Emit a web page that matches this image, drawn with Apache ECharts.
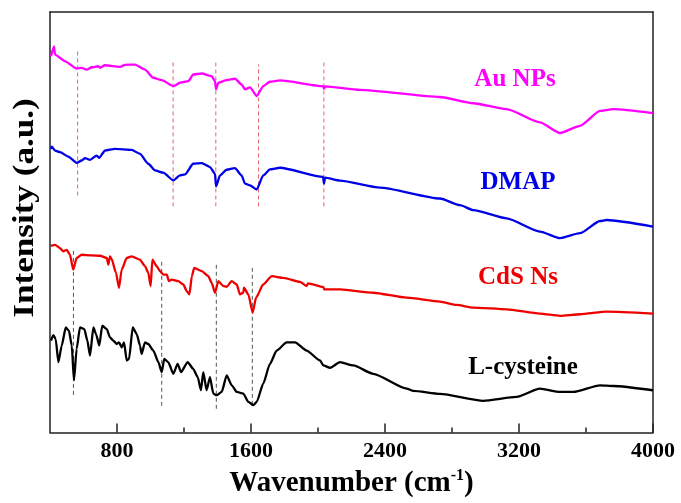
<!DOCTYPE html>
<html>
<head>
<meta charset="utf-8">
<script src="https://cdn.jsdelivr.net/npm/echarts@6/dist/echarts.min.js"></script>
<style>
  html, body { margin: 0; padding: 0; background: #fff; }
  #chart { width: 681px; height: 503px; }
</style>
</head>
<body>
<div id="chart"></div>
<script>
// FTIR spectra, stacked with vertical offsets (intensity in arbitrary units)
const tickValues = [800, 1600, 2400, 3200, 4000];
const minorTickValues = [1200, 2000, 2800, 3600];

const seriesNames = ['Au NPs', 'DMAP', 'CdS Ns', 'L-cysteine'];

// [wavenumber (cm-1), intensity (a.u.)]
const auNPs = [
  [406, 379.3], [424, 389.3], [430, 381], [490, 374.3], [559, 367], [589, 367.7],
  [619, 366], [649, 368.3], [688, 369.3], [699, 367.7], [728, 370.3], [818, 368.7],
  [848, 370.7], [907, 371], [967, 366], [1017, 357.7], [1067, 355.3], [1136, 349.3],
  [1176, 352.7], [1226, 354.3], [1255, 361], [1306, 362], [1365, 359.3], [1385, 354.3],
  [1391, 346], [1405, 352.7], [1455, 355.3], [1504, 356.7], [1544, 351], [1564, 346],
  [1594, 348], [1634, 339.3], [1673, 349.3], [1713, 353.7], [1773, 355], [2030, 349.3],
  [2036, 346.7], [2042, 349], [2251, 345.5], [2728, 338.3], [2927, 332], [3126, 326],
  [3325, 312.7], [3445, 302], [3564, 309.3], [3684, 324.3], [3763, 326], [4000, 322]
];

const dmap = [
  [406, 286], [410, 288.3], [430, 284.3], [460, 282.7], [509, 278.3], [559, 272],
  [589, 274.3], [609, 276.7], [639, 275], [679, 279.3], [694, 277], [728, 284.3],
  [788, 286], [888, 285], [937, 281], [987, 271], [1027, 264.3], [1076, 262],
  [1136, 254.3], [1176, 259.3], [1206, 260.3], [1255, 271], [1306, 271.7], [1355, 267.7],
  [1385, 261], [1391, 248.3], [1415, 259.3], [1455, 265], [1504, 266.7], [1544, 259.3],
  [1564, 251], [1594, 249.3], [1634, 245], [1673, 259.3], [1713, 265.3], [1773, 267],
  [2030, 257.7], [2036, 251], [2042, 257], [2131, 254], [2370, 247], [2728, 236],
  [2848, 229.3], [2927, 224.3], [3126, 216], [3325, 202.7], [3445, 196], [3564, 201],
  [3684, 213.3], [3723, 214.3], [4000, 207.7]
];

const cdsNs = [
  [406, 188.3], [430, 189.3], [460, 186], [479, 182.7], [500, 184.3], [519, 179.3],
  [539, 164.3], [559, 176], [589, 179.3], [649, 178.7], [699, 178.3], [739, 176],
  [748, 169.3], [758, 177.7], [768, 175], [794, 161], [812, 146], [828, 164.3],
  [858, 176], [888, 177.7], [937, 174.3], [967, 167.7], [987, 161], [1001, 147.7],
  [1011, 174.3], [1037, 167.7], [1057, 162.7], [1076, 159.3], [1097, 159.3], [1110, 152.7],
  [1127, 154.3], [1166, 152.7], [1196, 149.3], [1216, 142.7], [1232, 139.3], [1247, 157.7],
  [1261, 166], [1306, 162.7], [1345, 157.7], [1365, 151], [1385, 141], [1405, 152.7],
  [1435, 147.7], [1455, 147], [1485, 152.7], [1515, 149.3], [1534, 139.3], [1554, 141],
  [1558, 146], [1584, 139.3], [1610, 121], [1630, 136], [1673, 149.3], [1724, 157.7],
  [1793, 156], [1893, 152], [1932, 147.7], [1940, 150.5], [2032, 146.7], [2038, 144.3],
  [2131, 144.3], [2330, 141], [2530, 136], [2728, 132], [2828, 128.7], [2927, 126],
  [3126, 124.3], [3325, 120], [3445, 117.7], [3564, 119.3], [3723, 122], [4000, 120]
];

const lCysteine = [
  [406, 92.7], [420, 98.3], [434, 94.3], [450, 71], [470, 87.7], [494, 106],
  [513, 102.7], [530, 87.7], [543, 52.7], [559, 84.3], [579, 106], [605, 104.3],
  [623, 92.7], [639, 77.7], [659, 106], [675, 99.3], [694, 87.7], [712, 107.7],
  [739, 104.3], [758, 96], [778, 92.7], [798, 89.3], [812, 91], [828, 86],
  [842, 91], [858, 72.7], [872, 74.3], [894, 106], [918, 99.3], [937, 87.7],
  [947, 79.3], [967, 91], [987, 89.3], [1017, 82.7], [1047, 71], [1067, 61],
  [1082, 74.3], [1106, 71], [1136, 59.3], [1162, 69.3], [1182, 61], [1222, 71],
  [1255, 64.3], [1282, 56], [1301, 42.7], [1315, 61], [1335, 42.7], [1355, 56],
  [1375, 39.3], [1395, 37.7], [1425, 41], [1455, 57.7], [1485, 47.7], [1515, 41],
  [1554, 39.3], [1584, 31], [1614, 27.7], [1634, 31], [1673, 49.3], [1713, 69.3],
  [1753, 82.7], [1813, 91], [1863, 91], [1932, 82.7], [2012, 72.7], [2032, 67.7],
  [2072, 65.3], [2131, 71], [2211, 67.7], [2330, 59.3], [2530, 44.3], [2569, 42],
  [2728, 39], [2987, 32], [3186, 36], [3325, 44.3], [3445, 41], [3524, 41],
  [3684, 47.7], [3763, 47], [4000, 42.7]
];

// Band markers: [wavenumber, lower intensity, upper intensity]
const upperBandMarkers = [
  [565, 239, 386], [1135, 228, 374], [1390, 228, 373], [1645, 228, 371], [2035, 228, 373]
];
const lowerBandMarkers = [
  [540, 38, 184], [1067, 27, 174], [1393, 24, 171], [1608, 28, 169]
];

const FONT = "'Liberation Serif', 'Times New Roman', serif";
const colors = ['#ff00ff', '#0000e6', '#ee0000', '#000000'];
const frameColor = '#222';

const chart = echarts.init(document.getElementById('chart'), null, { renderer: 'canvas' });

function markerSeries(list, color) {
  return list.map(function (m) {
    return {
      type: 'line',
      xAxisIndex: 0,
      yAxisIndex: 0,
      data: [[m[0], m[1]], [m[0], m[2]]],
      showSymbol: false,
      silent: true,
      z: 1,
      lineStyle: { color: color, width: 1, type: [4, 3] }
    };
  });
}

const spectra = [auNPs, dmap, cdsNs, lCysteine].map(function (d, i) {
  return {
    name: seriesNames[i],
    type: 'line',
    data: d,
    showSymbol: false,
    smooth: 0.2,
    smoothMonotone: 'x',
    z: 3,
    lineStyle: { color: colors[i], width: 2.3 }
  };
});

// Curve labels, placed beside each spectrum
const labelSpots = [[515, 80], [518, 183], [518, 278], [523, 368]];
const curveLabels = seriesNames.map(function (name, i) {
  return {
    type: 'text',
    x: labelSpots[i][0],
    y: labelSpots[i][1],
    style: {
      text: name, fill: colors[i], font: 'bold 25px ' + FONT,
      align: 'center', verticalAlign: 'middle'
    }
  };
});

// Vertical axis title, slightly stretched along its length
const yTitle = {
  type: 'text',
  x: 25,
  y: 208,
  rotation: Math.PI / 2,
  scaleX: 1.17,
  style: {
    text: 'Intensity (a.u.)', fill: '#000', font: 'bold 30px ' + FONT,
    align: 'center', verticalAlign: 'middle'
  }
};

const option = {
  animation: false,
  backgroundColor: '#fff',
  grid: { left: 50, right: 28, top: 12, bottom: 67 },
  xAxis: [
    {
      type: 'value', min: 400, max: 4000, position: 'bottom',
      axisLine: { show: true, lineStyle: { color: frameColor, width: 1.5 } },
      axisTick: { show: true, inside: true, length: 9, customValues: tickValues,
                  lineStyle: { color: frameColor, width: 1.5 } },
      axisLabel: { show: true, customValues: tickValues, margin: 8,
                   formatter: function (v) { return String(v); },
                   fontFamily: FONT, fontWeight: 'bold', fontSize: 22, color: '#000' },
      splitLine: { show: false },
      name: '{t|Wavenumber (cm}{s|-1}{t|)}',
      nameLocation: 'middle',
      nameGap: 34,
      nameTextStyle: {
        rich: {
          t: { fontFamily: FONT, fontWeight: 'bold', fontSize: 29, color: '#000' },
          s: { fontFamily: FONT, fontWeight: 'bold', fontSize: 16, color: '#000',
               padding: [0, 0, 16, 0] }
        }
      }
    },
    {
      type: 'value', min: 400, max: 4000, position: 'bottom',
      axisLine: { show: false },
      axisTick: { show: true, inside: true, length: 5, customValues: minorTickValues,
                  lineStyle: { color: frameColor, width: 1.5 } },
      axisLabel: { show: false },
      splitLine: { show: false }
    },
    {
      type: 'value', min: 400, max: 4000, position: 'top',
      axisLine: { show: true, lineStyle: { color: frameColor, width: 1.5 } },
      axisTick: { show: false }, axisLabel: { show: false }, splitLine: { show: false }
    }
  ],
  yAxis: [
    {
      type: 'value', min: 0, max: 424, position: 'left',
      axisLine: { show: true, lineStyle: { color: frameColor, width: 1.5 } },
      axisTick: { show: false }, axisLabel: { show: false }, splitLine: { show: false }
    },
    {
      type: 'value', min: 0, max: 424, position: 'right',
      axisLine: { show: true, lineStyle: { color: frameColor, width: 1.5 } },
      axisTick: { show: false }, axisLabel: { show: false }, splitLine: { show: false }
    }
  ],
  graphic: curveLabels.concat([yTitle]),
  series: markerSeries(upperBandMarkers, '#e8646a')
    .concat(markerSeries(lowerBandMarkers, '#555555'))
    .concat(spectra)
};

chart.setOption(option);
</script>
</body>
</html>
